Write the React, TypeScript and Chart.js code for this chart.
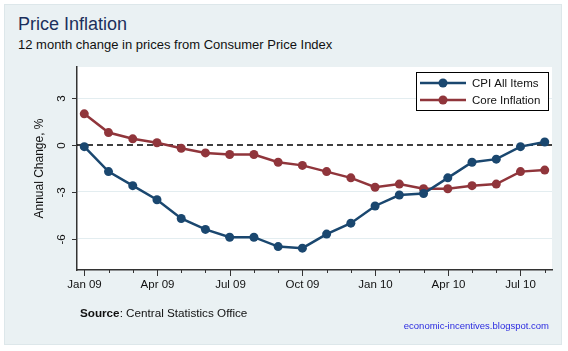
import React, { useEffect, useRef } from "react";
import { Chart, registerables } from "chart.js";

Chart.register(...registerables);

const months = [
  "Jan 09", "Feb 09", "Mar 09", "Apr 09", "May 09", "Jun 09", "Jul 09", "Aug 09", "Sep 09", "Oct 09",
  "Nov 09", "Dec 09", "Jan 10", "Feb 10", "Mar 10", "Apr 10", "May 10", "Jun 10", "Jul 10", "Aug 10",
];
const cpiAllItems = [-0.1, -1.7, -2.6, -3.5, -4.7, -5.4, -5.9, -5.9, -6.5, -6.6, -5.7, -5.0, -3.9, -3.2, -3.1, -2.1, -1.1, -0.9, -0.1, 0.2];
const coreInflation = [2.0, 0.8, 0.4, 0.15, -0.2, -0.5, -0.6, -0.6, -1.1, -1.3, -1.7, -2.1, -2.7, -2.5, -2.8, -2.8, -2.6, -2.5, -1.7, -1.6];
const yTicks = [-6, -3, 0, 3];
const seriesNames = ["CPI All Items", "Core Inflation"];

const NAVY = "#1a476f";
const MAROON = "#90353b";
const FONT = "'Liberation Sans', Arial, sans-serif";

const decorPlugin = {
  id: "decor",
  beforeDraw(chart: any) {
    const { ctx, chartArea: a } = chart;
    ctx.save();
    ctx.fillStyle = "#ffffff";
    ctx.fillRect(a.left, a.top, a.right - a.left, a.bottom - a.top);
    ctx.restore();
  },
  beforeDatasetsDraw(chart: any) {
    const { ctx, chartArea: a } = chart;
    const y0 = chart.scales.y.getPixelForValue(0);
    ctx.save();
    ctx.strokeStyle = "#000";
    ctx.lineWidth = 1.5;
    ctx.setLineDash([6, 4]);
    ctx.beginPath();
    ctx.moveTo(a.left, y0);
    ctx.lineTo(a.right, y0);
    ctx.stroke();
    ctx.restore();
  },
  afterDraw(chart: any) {
    const { ctx, chartArea: a } = chart;
    const xs = chart.scales.x;
    const ys = chart.scales.y;
    ctx.save();
    // x ticks and labels
    ctx.strokeStyle = "#333";
    ctx.lineWidth = 1;
    ctx.fillStyle = "#111";
    ctx.font = `11.5px ${FONT}`;
    ctx.textAlign = "center";
    ctx.textBaseline = "top";
    months.forEach((m, i) => {
      const x = Math.round(xs.getPixelForValue(i)) + 0.5;
      const major = i % 3 === 0;
      ctx.beginPath();
      ctx.moveTo(x, a.bottom);
      ctx.lineTo(x, a.bottom + (major ? 6 : 3));
      ctx.stroke();
      if (major) ctx.fillText(m, x, a.bottom + 9);
    });
    // y ticks and rotated labels
    yTicks.forEach((v) => {
      const y = Math.round(ys.getPixelForValue(v)) + 0.5;
      ctx.beginPath();
      ctx.moveTo(a.left, y);
      ctx.lineTo(a.left - 5, y);
      ctx.stroke();
      ctx.save();
      ctx.translate(a.left - 9, y);
      ctx.rotate(-Math.PI / 2);
      ctx.textAlign = "center";
      ctx.textBaseline = "bottom";
      ctx.fillText(String(v), 0, 0);
      ctx.restore();
    });
    // y axis title
    ctx.save();
    ctx.font = `12px ${FONT}`;
    ctx.translate(46, (a.top + a.bottom) / 2);
    ctx.rotate(-Math.PI / 2);
    ctx.textAlign = "center";
    ctx.textBaseline = "bottom";
    ctx.fillText("Annual Change, %", 0, 0);
    ctx.restore();
    // legend
    const lw = 132, lh = 38;
    const lx = a.right - 4 - lw, ly = a.top + 5;
    ctx.fillStyle = "#fff";
    ctx.fillRect(lx, ly, lw, lh);
    ctx.strokeStyle = "#000";
    ctx.lineWidth = 1;
    ctx.strokeRect(Math.round(lx) + 0.5, Math.round(ly) + 0.5, lw, lh);
    const colors = [NAVY, MAROON];
    seriesNames.forEach((name, i) => {
      const cy = ly + 11 + i * 17;
      ctx.strokeStyle = colors[i];
      ctx.lineWidth = 2.5;
      ctx.beginPath();
      ctx.moveTo(lx + 4, cy);
      ctx.lineTo(lx + 50, cy);
      ctx.stroke();
      ctx.fillStyle = colors[i];
      ctx.beginPath();
      ctx.arc(lx + 27, cy, 4.5, 0, Math.PI * 2);
      ctx.fill();
      ctx.fillStyle = "#111";
      ctx.font = `11.5px ${FONT}`;
      ctx.textAlign = "left";
      ctx.textBaseline = "middle";
      ctx.fillText(name, lx + 56, cy + 0.5);
    });
    ctx.restore();
  },
};

export default function App() {
  const ref = useRef<HTMLCanvasElement | null>(null);
  useEffect(() => {
    if (!ref.current) return;
    const chart = new Chart(ref.current, {
      type: "line",
      data: {
        datasets: [
          {
            label: seriesNames[0],
            data: cpiAllItems.map((v, i) => ({ x: i, y: v })),
            borderColor: NAVY,
            backgroundColor: NAVY,
            borderWidth: 2.5,
            pointRadius: 4.5,
            pointHoverRadius: 4.5,
            pointBorderWidth: 0,
          },
          {
            label: seriesNames[1],
            data: coreInflation.map((v, i) => ({ x: i, y: v })),
            borderColor: MAROON,
            backgroundColor: MAROON,
            borderWidth: 2.5,
            pointRadius: 4.5,
            pointHoverRadius: 4.5,
            pointBorderWidth: 0,
          },
        ],
      },
      options: {
        animation: false,
        responsive: false,
        layout: { padding: { left: 77, top: 67, right: 16, bottom: 81 } },
        plugins: { legend: { display: false }, tooltip: { enabled: false } },
        scales: {
          x: {
            type: "linear",
            min: -0.3,
            max: 19.3,
            ticks: { display: false },
            grid: { display: false, drawTicks: false },
            border: { display: true, color: "#333", width: 1.5 },
          },
          y: {
            type: "linear",
            min: -8,
            max: 5,
            afterBuildTicks: (s: any) => {
              s.ticks = yTicks.map((v) => ({ value: v }));
            },
            ticks: { display: false },
            grid: {
              drawTicks: false,
              color: (c: any) => (c.tick && c.tick.value === 0 ? "rgba(0,0,0,0)" : "#e3edf0"),
              lineWidth: 1,
            },
            border: { display: true, color: "#333", width: 1.5 },
          },
        },
      },
      plugins: [decorPlugin],
    });
    return () => chart.destroy();
  }, []);

  return (
    <div style={{ position: "fixed", left: 0, top: 0, width: 568, height: 351, background: "#fff", fontFamily: FONT }}>
      <div
        style={{
          position: "absolute",
          left: 4,
          top: 4,
          width: 556,
          height: 339,
          background: "#eaf1f3",
          border: "1px solid #dde7ea",
        }}
      />
      <div style={{ position: "absolute", left: 18, top: 14, fontSize: 18, color: "#1c2f5c", whiteSpace: "nowrap" }}>
        Price Inflation
      </div>
      <div style={{ position: "absolute", left: 18, top: 37, fontSize: 13, color: "#111", whiteSpace: "nowrap" }}>
        12 month change in prices from Consumer Price Index
      </div>
      <canvas ref={ref} width={568} height={351} style={{ position: "absolute", left: 0, top: 0 }} />
      <div style={{ position: "absolute", left: 80, top: 306, fontSize: 11.7, color: "#111", whiteSpace: "nowrap" }}>
        <b>Source</b>: Central Statistics Office
      </div>
      <div style={{ position: "absolute", right: 19, top: 320, fontSize: 9.5, color: "#2a2ae0", whiteSpace: "nowrap" }}>
        economic-incentives.blogspot.com
      </div>
    </div>
  );
}
